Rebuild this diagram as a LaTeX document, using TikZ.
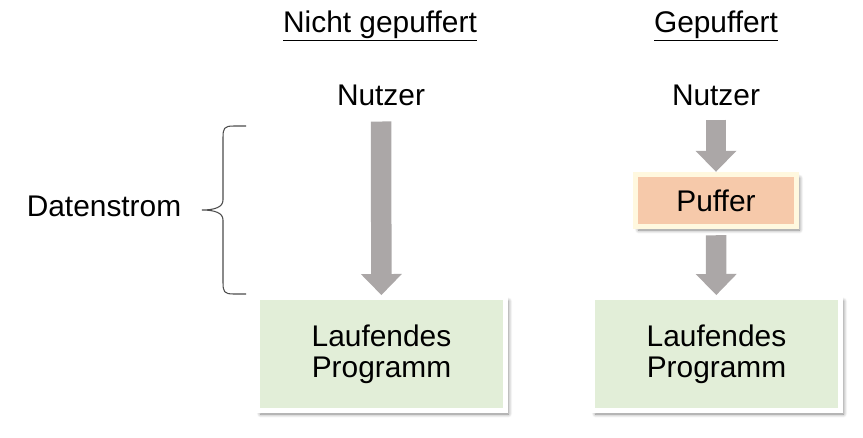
\documentclass[tikz,border=0pt]{standalone}
\usepackage{fontspec}
\setmainfont{Liberation Sans}
\usetikzlibrary{arrows.meta,shadows.blur}
\definecolor{progfill}{HTML}{E2EED8}
\definecolor{pufferfill}{HTML}{F6C9AA}
\definecolor{pufferframe}{HTML}{FFF8DF}
\definecolor{flowgray}{HTML}{ABA7A7}

\begin{document}
\begin{tikzpicture}[x=0.02cm, y=-0.02cm,
    every node/.style={font=\fontsize{17}{17.5}\selectfont},
    progbox/.style={fill=progfill, draw=white, line width=0.1cm, align=center,
        minimum width=4.96cm, minimum height=2.26cm,
        blur shadow={shadow blur steps=6, shadow xshift=0.06cm, shadow yshift=-0.07cm, shadow opacity=50}},
    pufferbox/.style={fill=pufferfill, draw=pufferframe, line width=0.11cm,
        minimum width=3.22cm, minimum height=1.04cm,
        blur shadow={shadow blur steps=6, shadow xshift=0.06cm, shadow yshift=-0.07cm, shadow opacity=50}},
    flow/.style={draw=flowgray, line width=0.41cm,
        -{Triangle[length=0.42cm, width=0.82cm, line width=0pt]}},
    braceline/.style={draw=black!70, line width=0.6pt}]
    \useasboundingbox (0,0) rectangle (863,437);
    % Titles of the two columns
    \node[anchor=base] (titleA) at (380,32) {\underline{Nicht gepuffert}};
    \node[anchor=base] (titleB) at (716,32) {\underline{Gepuffert}};
    % Left column: not buffered
    \node[anchor=base] (nutzerA) at (381,105) {Nutzer};
    \node[progbox] (progA) at (381.5,354) {Laufendes\\Programm};
    \draw[flow, shorten <=0.2cm] (nutzerA) -- (progA);
    % Right column: buffered
    \node[anchor=base] (nutzerB) at (716,105) {Nutzer};
    \node[pufferbox] (pufferB) at (716,200.5) {Puffer};
    \node[progbox] (progB) at (716.5,354) {Laufendes\\Programm};
    \draw[flow, shorten <=0.16cm] (nutzerB) -- (pufferB);
    \draw[flow, shorten <=0.12cm] (pufferB) -- (progB);
    % Brace marking the data stream
    \coordinate (braceTop) at (246,126);
    \coordinate (braceTip) at (202,210);
    \coordinate (braceBot) at (246,294);
    \draw[braceline] (braceTop) -- (234,126)
        .. controls (224,126) and (223,128) .. (223,138) -- (223,200)
        .. controls (223,207) and (215,210) .. (braceTip)
        .. controls (215,210) and (223,213) .. (223,220) -- (223,282)
        .. controls (223,292) and (224,294) .. (234,294) -- (braceBot);
    \node[anchor=base] (datenstrom) at (104,216) {Datenstrom};
\end{tikzpicture}
\end{document}
